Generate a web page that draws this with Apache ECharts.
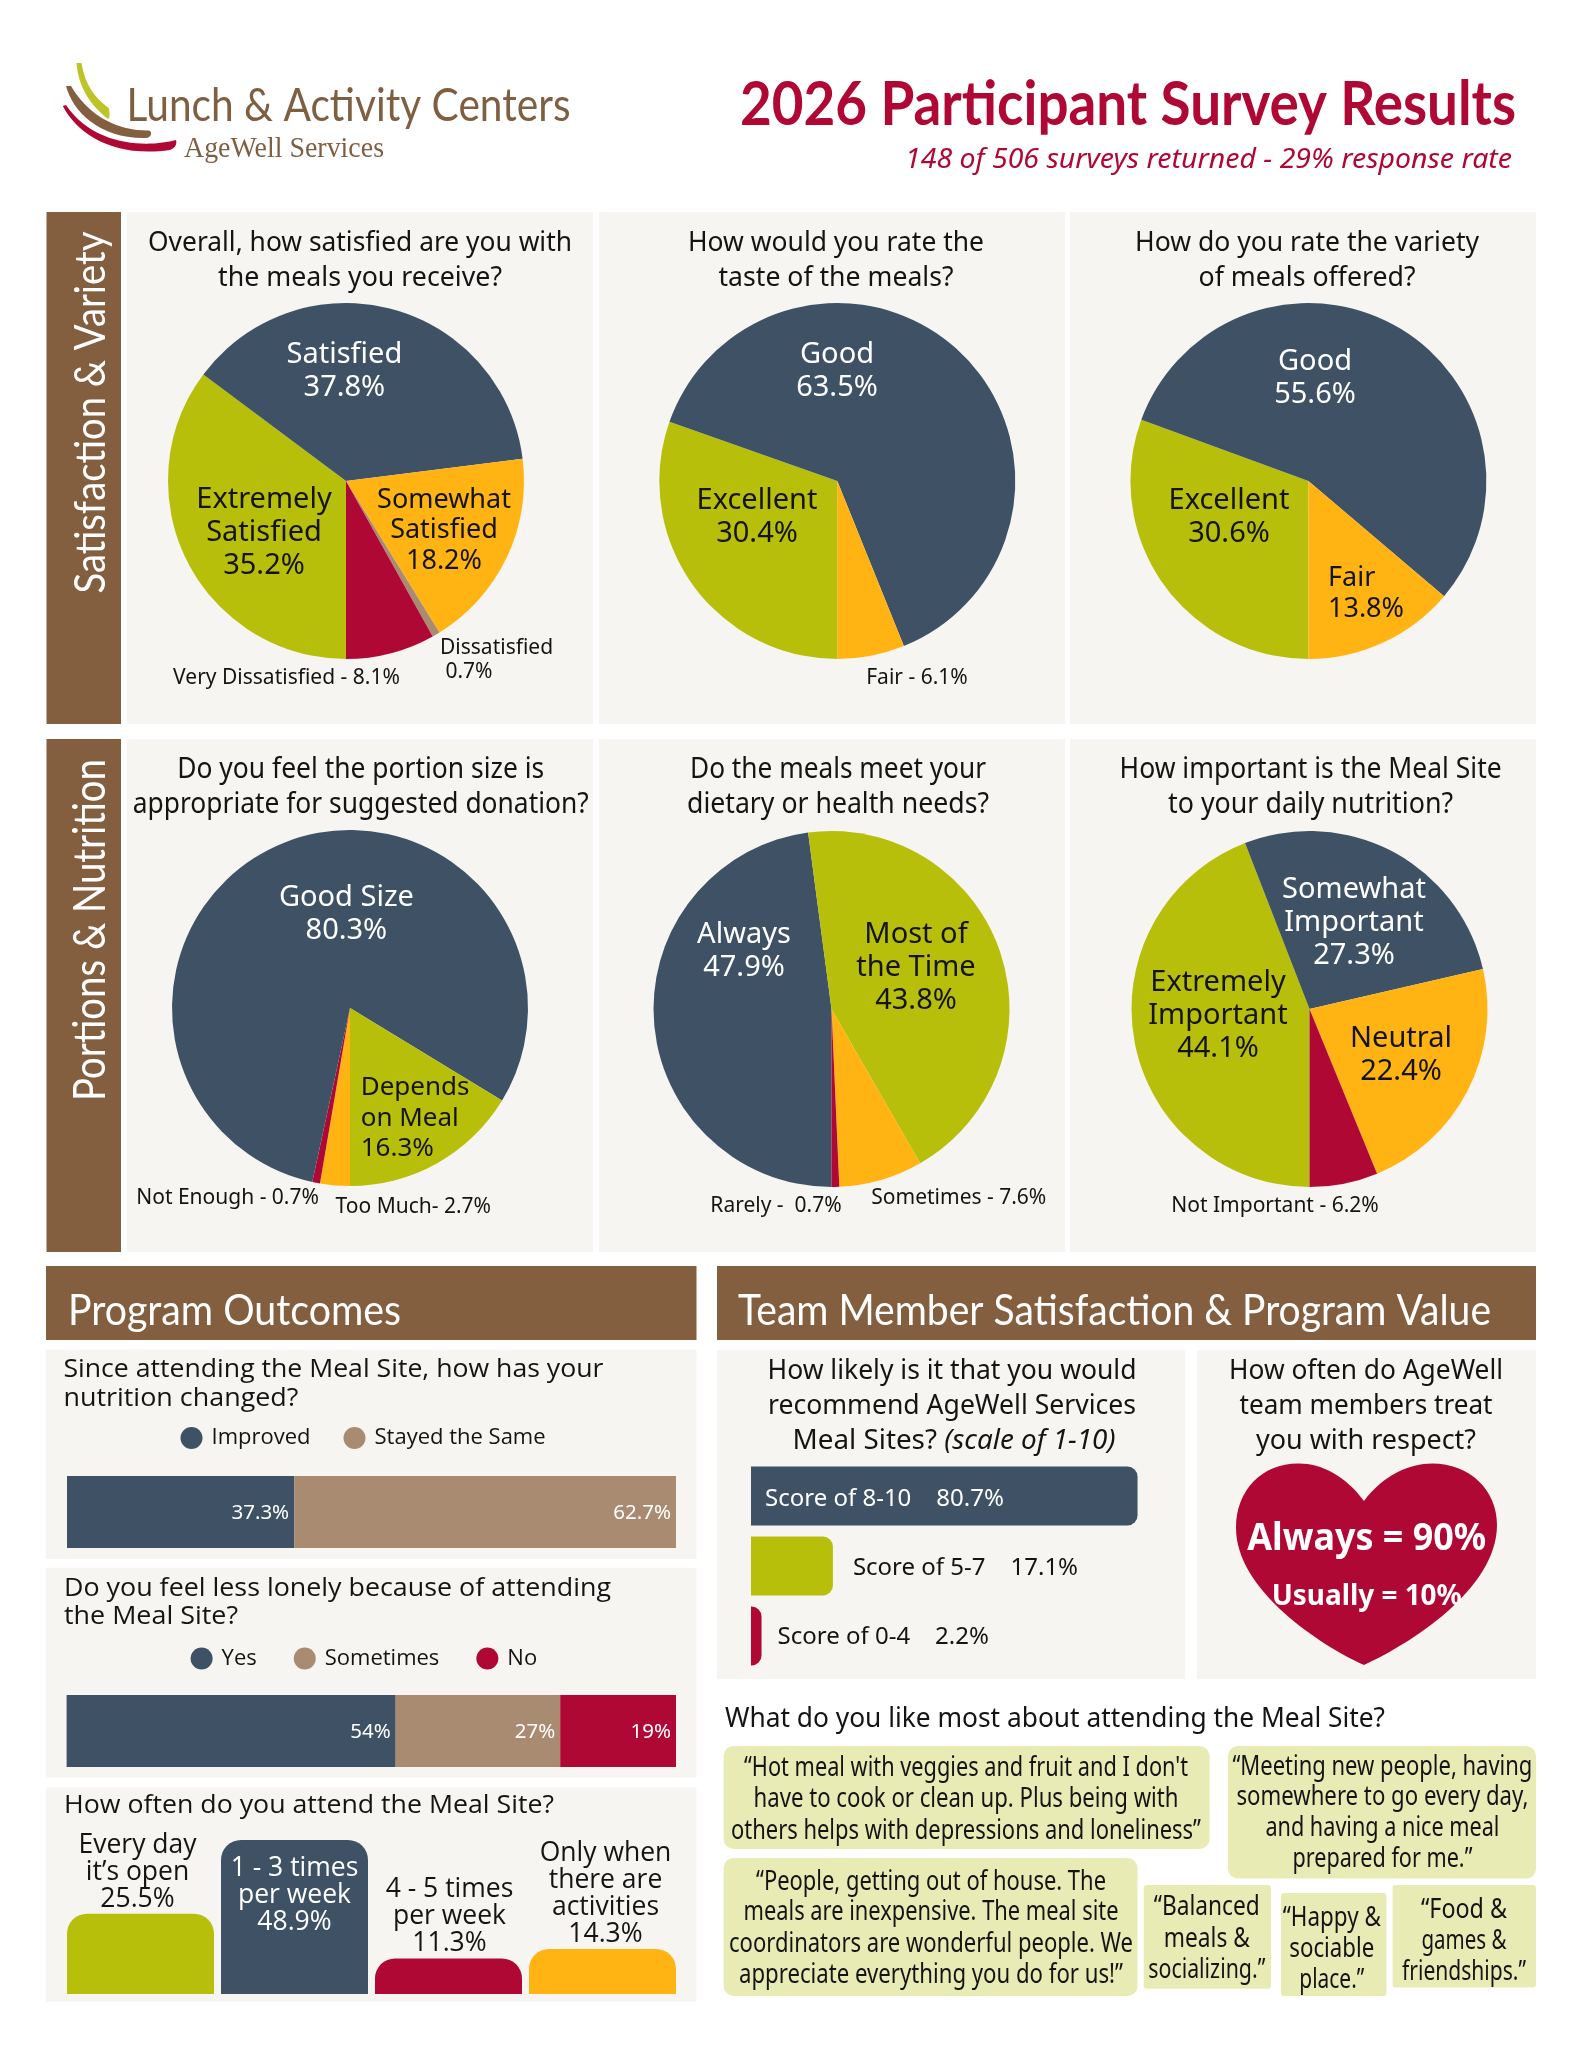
<!DOCTYPE html>
<html><head><meta charset="utf-8">
<style>html,body{margin:0;padding:0;background:#fff}#c{width:1583px;height:2048px}</style>
<script src="https://cdn.jsdelivr.net/npm/echarts@6/dist/echarts.min.js"></script>
</head><body><div id="c"></div>
<script>
// ---------- data ----------
const pie1Names=['Extremely\nSatisfied','Satisfied','Somewhat\nSatisfied','Dissatisfied','Very Dissatisfied'];
const pie1Values=[35.2,37.8,18.2,0.7,8.1];
const pie2Names=['Excellent','Good','Fair'];
const pie2Values=[30.4,63.5,6.1];
const pie3Names=['Excellent','Good','Fair'];
const pie3Values=[30.6,55.6,13.8];
const pie4Names=['Too Much','Not Enough','Good Size','Depends\non Meal'];
const pie4Values=[2.7,0.7,80.3,16.3];
const pie5Names=['Always','Most of\nthe Time','Sometimes','Rarely'];
const pie5Values=[47.9,43.8,7.6,0.7];
const pie6Names=['Extremely\nImportant','Somewhat\nImportant','Neutral','Not Important'];
const pie6Values=[44.1,27.3,22.4,6.2];
const nutritionNames=['Improved','Stayed the Same'];
const nutritionValues=[37.3,62.7];
const lonelyNames=['Yes','Sometimes','No'];
const lonelyValues=[54,27,19];
const attendNames=['Every day\nit’s open','1 - 3 times\nper week','4 - 5 times\nper week','Only when\nthere are\nactivities'];
const attendValues=[25.5,48.9,11.3,14.3];
const scoreNames=['Score of 8-10','Score of 5-7','Score of 0-4'];
const scoreValues=[80.7,17.1,2.2];
const pieQuestions=[
 ['Overall, how satisfied are you with','the meals you receive?'],
 ['How would you rate the','taste of the meals?'],
 ['How do you rate the variety','of meals offered?'],
 ['Do you feel the portion size is','appropriate for suggested donation?'],
 ['Do the meals meet your','dietary or health needs?'],
 ['How important is the Meal Site','to your daily nutrition?']];
const quotes=[
 ['“Hot meal with veggies and fruit and I don\'t','have to cook or clean up. Plus being with','others helps with depressions and loneliness”'],
 ['“Meeting new people, having','somewhere to go every day,','and having a nice meal','prepared for me.”'],
 ['“People, getting out of house. The','meals are inexpensive. The meal site','coordinators are wonderful people. We','appreciate everything you do for us!”'],
 ['“Balanced','meals &','socializing.”'],
 ['“Happy &','sociable','place.”'],
 ['“Food &','games &','friendships.”']];

// ---------- style ----------
const NAVY='#3f5265',GREEN='#b8bf0b',YEL='#ffb414',RED='#b00835',TAN='#a98b72',BROWN='#845f3f',CREAM='#f7f5f2',QBG='#e9ebb5',INK='#141414';
const BODY='"Noto Sans"',HEAD='Lato',WIDE='"Open Sans"';
const mctx=document.createElement('canvas').getContext('2d');
function T(x,y,text,o){
  o=o||{};
  const size=o.size||26,fam=o.fam||BODY,weight=o.weight||'normal',st=o.style||'normal';
  const font=st+' '+weight+' '+size+'px '+fam;
  mctx.font=font;
  const sx=o.w?o.w/mctx.measureText(text).width:(o.sx||1);
  const rot=o.rot||0;
  return {type:'text',x:rot?x+2:x,y:rot?y:y+2,scaleX:sx,rotation:rot,silent:true,
    style:{text:text,font:font,fontSize:size,fontFamily:fam,fontWeight:weight,fontStyle:st,fill:o.color||INK,align:o.align||'center',verticalAlign:'middle',textAlign:o.align||'center',textVerticalAlign:'middle'}};
}
function R(x0,y0,x1,y1,fill,r){return {type:'rect',silent:true,shape:{x:x0,y:y0,width:x1-x0,height:y1-y0,r:r||0},style:{fill:fill}};}

// free form outline shape for the logo and the heart
echarts.graphic.registerShape('outline',echarts.graphic.extendShape({
  shape:{segs:[]},
  buildPath(ctx,s){
    s.segs.forEach(a=>{
      if(a.length===2)ctx.moveTo(a[0],a[1]);
      else ctx.bezierCurveTo(a[0],a[1],a[2],a[3],a[4],a[5]);
    });
    ctx.closePath();
  }
}));
function P(segs,fill){return {type:'outline',silent:true,shape:{segs:segs},style:{fill:fill}};}

const g=[];
// panels
g.push(R(46.5,212,121,724,BROWN),R(46.5,739,121,1252,BROWN));
[[127,593],[599,1065],[1070,1536]].forEach(p=>{g.push(R(p[0],212,p[1],724,CREAM),R(p[0],739,p[1],1252,CREAM));});
g.push(R(46,1266,696.5,1340,BROWN),R(717,1266,1536,1340,BROWN));
g.push(R(46,1349.5,696.5,1559,CREAM),R(46,1568,696.5,1777.6,CREAM),R(46,1787.6,696.5,2001.7,CREAM));
g.push(R(717,1350,1185,1679,CREAM),R(1197,1350,1536,1679,CREAM));

// logo
g.push(P([[76.5,63],[78,80,84,100,108,119],[110,119,110,112,108.7,108],[95,98,85,85,81.5,63]],'#bcc42a'));
g.push(P([[66,86],[73,112,100,139,146,138],[151,138,153,132,149,130.5],[120,131,90,118,71,86]],BROWN));
g.push(P([[62.8,106],[78,135,115,158,170,150],[176,148,177,143,176,140],[150,147,95,148,66,105]],RED));
g.push(T(126.5,104,'Lunch & Activity Centers',{size:46,fam:HEAD,color:'#7f5f42',align:'left',w:444}));
g.push(T(184,147,'AgeWell Services',{size:29,fam:'"Liberation Serif"',color:'#7f5f42',align:'left',w:200}));
g.push(T(740,103,'2026 Participant Survey Results',{size:62,fam:HEAD,weight:'bold',color:RED,align:'left',w:776}));
g.push(T(905,158,'148 of 506 surveys returned - 29% response rate',{size:27,fam:BODY,style:'italic',color:RED,align:'left',w:607}));

// section titles
g.push(T(89,412.5,'Satisfaction & Variety',{size:42,fam:HEAD,color:'#fff',rot:Math.PI/2,w:362}));
g.push(T(89,930,'Portions & Nutrition',{size:44,fam:HEAD,color:'#fff',rot:Math.PI/2,w:342}));
g.push(T(68,1309,'Program Outcomes',{size:42,fam:HEAD,color:'#fff',align:'left',w:333}));
g.push(T(738,1309,'Team Member Satisfaction & Program Value',{size:42,fam:HEAD,color:'#fff',align:'left',w:753}));

// pie questions
const qx=[360,836,1307,360.7,838,1310.6];
const qy=[[241,276.5],[241,276.5],[241,276.5],[768,803],[768,803],[768,803]];
const qw=[[424,284],[296,235],[344,217],[367,456],[296,302],[382,285]];
pieQuestions.forEach((q,i)=>q.forEach((l,j)=>g.push(T(qx[i],qy[i][j],l,{size:i<3?27:29,w:qw[i][j]}))));

// outcome questions
g.push(T(63.4,1367.5,'Since attending the Meal Site, how has your',{size:26,fam:WIDE,align:'left',w:540}));
g.push(T(63.4,1397,'nutrition changed?',{size:26,fam:WIDE,align:'left',w:235}));
g.push(T(64,1586.6,'Do you feel less lonely because of attending',{size:26,fam:WIDE,align:'left',w:547}));
g.push(T(64,1615,'the Meal Site?',{size:26,fam:WIDE,align:'left',w:174}));
g.push(T(64,1804,'How often do you attend the Meal Site?',{size:26,fam:WIDE,align:'left',w:490}));

// recommend + respect
g.push(T(952,1369.5,'How likely is it that you would',{size:27,w:369}));
g.push(T(952,1404,'recommend AgeWell Services',{size:27,w:368}));
g.push(T(954,1439,'Meal Sites? ',{size:27,sx:1.03}));
g[g.length-1].style.text='Meal Sites? {i|(scale of 1-10)}';
g[g.length-1].style.rich={i:{fontStyle:'italic',fontSize:27,fontFamily:'Noto Sans',fill:INK}};
g.push(T(1366,1369.5,'How often do AgeWell',{size:27,w:274}));
g.push(T(1366,1404,'team members treat',{size:27,w:253}));
g.push(T(1366,1439,'you with respect?',{size:27,w:220}));
g.push(P([[1364,1501],[1345,1475,1320,1463,1298,1463.5],[1262,1463.5,1236,1490,1236,1528],[1236,1590,1320,1645,1364,1665],[1408,1645,1497,1590,1497,1525],[1497,1490,1470,1463.5,1432,1463.5],[1410,1463.5,1383,1475,1364,1501]],RED));
g.push(T(1366.7,1537,'Always = 90%',{size:37,weight:'bold',color:'#fff',w:239}));
g.push(T(1366.7,1595,'Usually = 10%',{size:29,weight:'bold',color:'#fff',w:190}));

// quotes
g.push(T(725,1717,'What do you like most about attending the Meal Site?',{size:27,align:'left',w:660}));
const qBox=[[723.6,1746,1209.6,1849],[1228,1746,1536,1878.6],[723.6,1858,1137.5,1996],[1143.7,1885,1271,1988.7],[1281,1893,1386.4,1996],[1392.6,1885,1536,1987.6]];
const qCx=[966,1382.4,931,1206.8,1331.8,1464];
const qLy=[[1766.5,1797.7,1829],[1765,1795.7,1826,1857.5],[1880,1910.7,1942,1973],[1905.7,1937.4,1968.5],[1916.3,1947,1978.6],[1908,1939,1970.5]];
const qLw=[[444,425,470],[300,292,234,180],[350,375,404,384],[106,86,117],[98,85,65],[86,85,124]];
const qRad=[10,10,10,3,3,3];
quotes.forEach((q,i)=>{
  const b=qBox[i];
  g.push(R(b[0],b[1],b[2],b[3],QBG,qRad[i]));
  q.forEach((l,j)=>g.push(T(qCx[i],qLy[i][j],l,{size:27,w:qLw[i][j]})));
});

// ---------- pies ----------
const pieDefs=[
 {n:pie1Names,v:pie1Values,c:[346,481],col:[GREEN,NAVY,YEL,TAN,RED],
  sep:['\n','\n','\n','\n ',' - '],size:[29,29,27,21,21],txt:[INK,'#fff',INK,INK,INK],
  pos:[[264,530],[344.4,369],[444,528],[440,658],[286.5,676]],al:['center','center','center','left','center']},
 {n:pie2Names,v:pie2Values,c:[837.3,481],col:[GREEN,NAVY,YEL],
  sep:['\n','\n',' - '],size:[29,29,21],txt:[INK,'#fff',INK],
  pos:[[757,514.5],[837,369],[917,676]],al:['center','center','center']},
 {n:pie3Names,v:pie3Values,c:[1308.4,481],col:[GREEN,NAVY,YEL],
  sep:['\n','\n','\n'],size:[29,29,27],txt:[INK,'#fff',INK],
  pos:[[1229,514.5],[1315,375.5],[1328,591.5]],al:['center','center','left']},
 {n:pie4Names,v:pie4Values,c:[350,1008],col:[YEL,RED,NAVY,GREEN],
  sep:['- ',' - ','\n','\n'],size:[21,21,29,26],txt:[INK,INK,'#fff',INK],
  pos:[[413.3,1204.5],[227.6,1196],[346.4,912],[360.7,1116]],al:['center','center','center','left']},
 {n:pie5Names,v:pie5Values,c:[831.5,1009],col:[NAVY,GREEN,YEL,RED],
  sep:['\n','\n',' - ',' -  '],size:[29,29,21,21],txt:['#fff',INK,INK,INK],
  pos:[[744,949],[916,965.6],[958.8,1195.8],[776,1203.7]],al:['center','center','center','center']},
 {n:pie6Names,v:pie6Values,c:[1309.5,1009],col:[GREEN,NAVY,YEL,RED],
  sep:['\n','\n','\n',' - '],size:[29,29,29,21],txt:[INK,'#fff',INK,INK],
  pos:[[1218,1013],[1354,920],[1401,1053],[1275,1203.2]],al:['center','center','center','center']}
];
const series=[];
pieDefs.forEach(d=>{
  series.push({
    type:'pie',silent:true,animation:false,clockwise:true,startAngle:270,radius:178,center:d.c,
    avoidLabelOverlap:false,minShowLabelAngle:0,
    label:{show:true,position:'inside',rotate:0},labelLine:{show:false},
    emphasis:{disabled:true},
    labelLayout:(p)=>({x:d.pos[p.dataIndex][0],y:d.pos[p.dataIndex][1]+2.5,align:d.al[p.dataIndex],verticalAlign:'middle',hideOverlap:false}),
    data:d.n.map((name,i)=>({
      name:name,value:d.v[i],itemStyle:{color:d.col[i]},
      label:{show:true,position:'inside',rotate:0,formatter:name+d.sep[i]+d.v[i]+'%',fontFamily:'Noto Sans',
        fontSize:d.size[i],lineHeight:d.size[i]>=29?33:(d.size[i]>=26?30.5:24),color:d.txt[i],align:d.al[i]}
    }))
  });
});

// ---------- bar charts ----------
const grids=[
 {left:67,top:1476,width:609,height:72},
 {left:66.6,top:1695,width:609.4,height:72},
 {left:63.5,top:1840,width:616,height:154},
 {left:751,top:1461,width:479,height:210}
];
const xAxes=[],yAxes=[];
const hiddenAxis={show:false,axisLine:{show:false},axisTick:{show:false},axisLabel:{show:false},splitLine:{show:false}};
[0,1].forEach(i=>{
  xAxes.push(Object.assign({type:'value',gridIndex:i,min:0,max:100},hiddenAxis));
  yAxes.push(Object.assign({type:'category',gridIndex:i,data:['x']},hiddenAxis));
});
xAxes.push(Object.assign({type:'category',gridIndex:2,data:attendNames},hiddenAxis));
yAxes.push(Object.assign({type:'value',gridIndex:2,min:0,max:48.9},hiddenAxis));
xAxes.push(Object.assign({type:'value',gridIndex:3,min:0,max:100},hiddenAxis));
yAxes.push(Object.assign({type:'category',gridIndex:3,inverse:true,data:scoreNames},hiddenAxis));

function stack(names,vals,cols,idx,key){
  names.forEach((nm,i)=>series.push({type:'bar',name:nm,stack:key,xAxisIndex:idx,yAxisIndex:idx,barWidth:72,silent:true,animation:false,
    data:[vals[i]],itemStyle:{color:cols[i]},
    label:{show:true,position:'insideRight',distance:5,offset:[0,1],color:'#fff',fontFamily:'Noto Sans',fontSize:20.5,formatter:'{c}%'}}));
}
stack(nutritionNames,nutritionValues,[NAVY,TAN],0,'a');
stack(lonelyNames,lonelyValues,[NAVY,TAN,RED],1,'b');

const attendCol=[GREEN,NAVY,RED,YEL];
const attendDx=[-3,0,1,3];
series.push({type:'bar',xAxisIndex:2,yAxisIndex:2,barWidth:147,silent:true,animation:false,
  data:attendValues.map((v,i)=>({value:v,name:attendNames[i],itemStyle:{color:attendCol[i],borderRadius:[20,20,0,0]},
    label:{show:true,position:i===1?'insideTop':'top',distance:i===1?15:1,offset:[attendDx[i],0],color:i===1?'#fff':INK,
      fontFamily:'Open Sans',fontSize:26.5,lineHeight:27,formatter:attendNames[i]+'\n'+v+'%'}}))});

const scoreCol=[NAVY,GREEN,RED];
const scoreDy=[3,2.5,1.5];
series.push({type:'bar',xAxisIndex:3,yAxisIndex:3,barWidth:59,silent:true,animation:false,
  data:scoreValues.map((v,i)=>({value:v,name:scoreNames[i],itemStyle:{color:scoreCol[i],borderRadius:[0,10,10,0]},
    label:{show:true,position:i===0?'insideLeft':'right',distance:i===0?14:(i===1?20:16),offset:[0,scoreDy[i]],color:i===0?'#fff':INK,
      fontFamily:'Noto Sans',fontSize:24,formatter:scoreNames[i]+'    '+v+'%'}}))});

const legendText={fontFamily:'Open Sans',fontSize:22,color:INK};
const option={
  animation:false,
  backgroundColor:'#fff',
  graphic:{elements:g},
  grid:grids,xAxis:xAxes,yAxis:yAxes,
  legend:[
   {data:nutritionNames,left:180.5,top:1427,padding:0,itemWidth:30,itemHeight:22,itemGap:33,icon:'circle',textStyle:legendText,selectedMode:false},
   {data:lonelyNames,left:190.6,top:1647.5,padding:0,itemWidth:30,itemHeight:22,itemGap:37,icon:'circle',textStyle:legendText,selectedMode:false}
  ],
  series:series
};
const chart=echarts.init(document.getElementById('c'),null,{width:1583,height:2048});
chart.setOption(option);
</script></body></html>
